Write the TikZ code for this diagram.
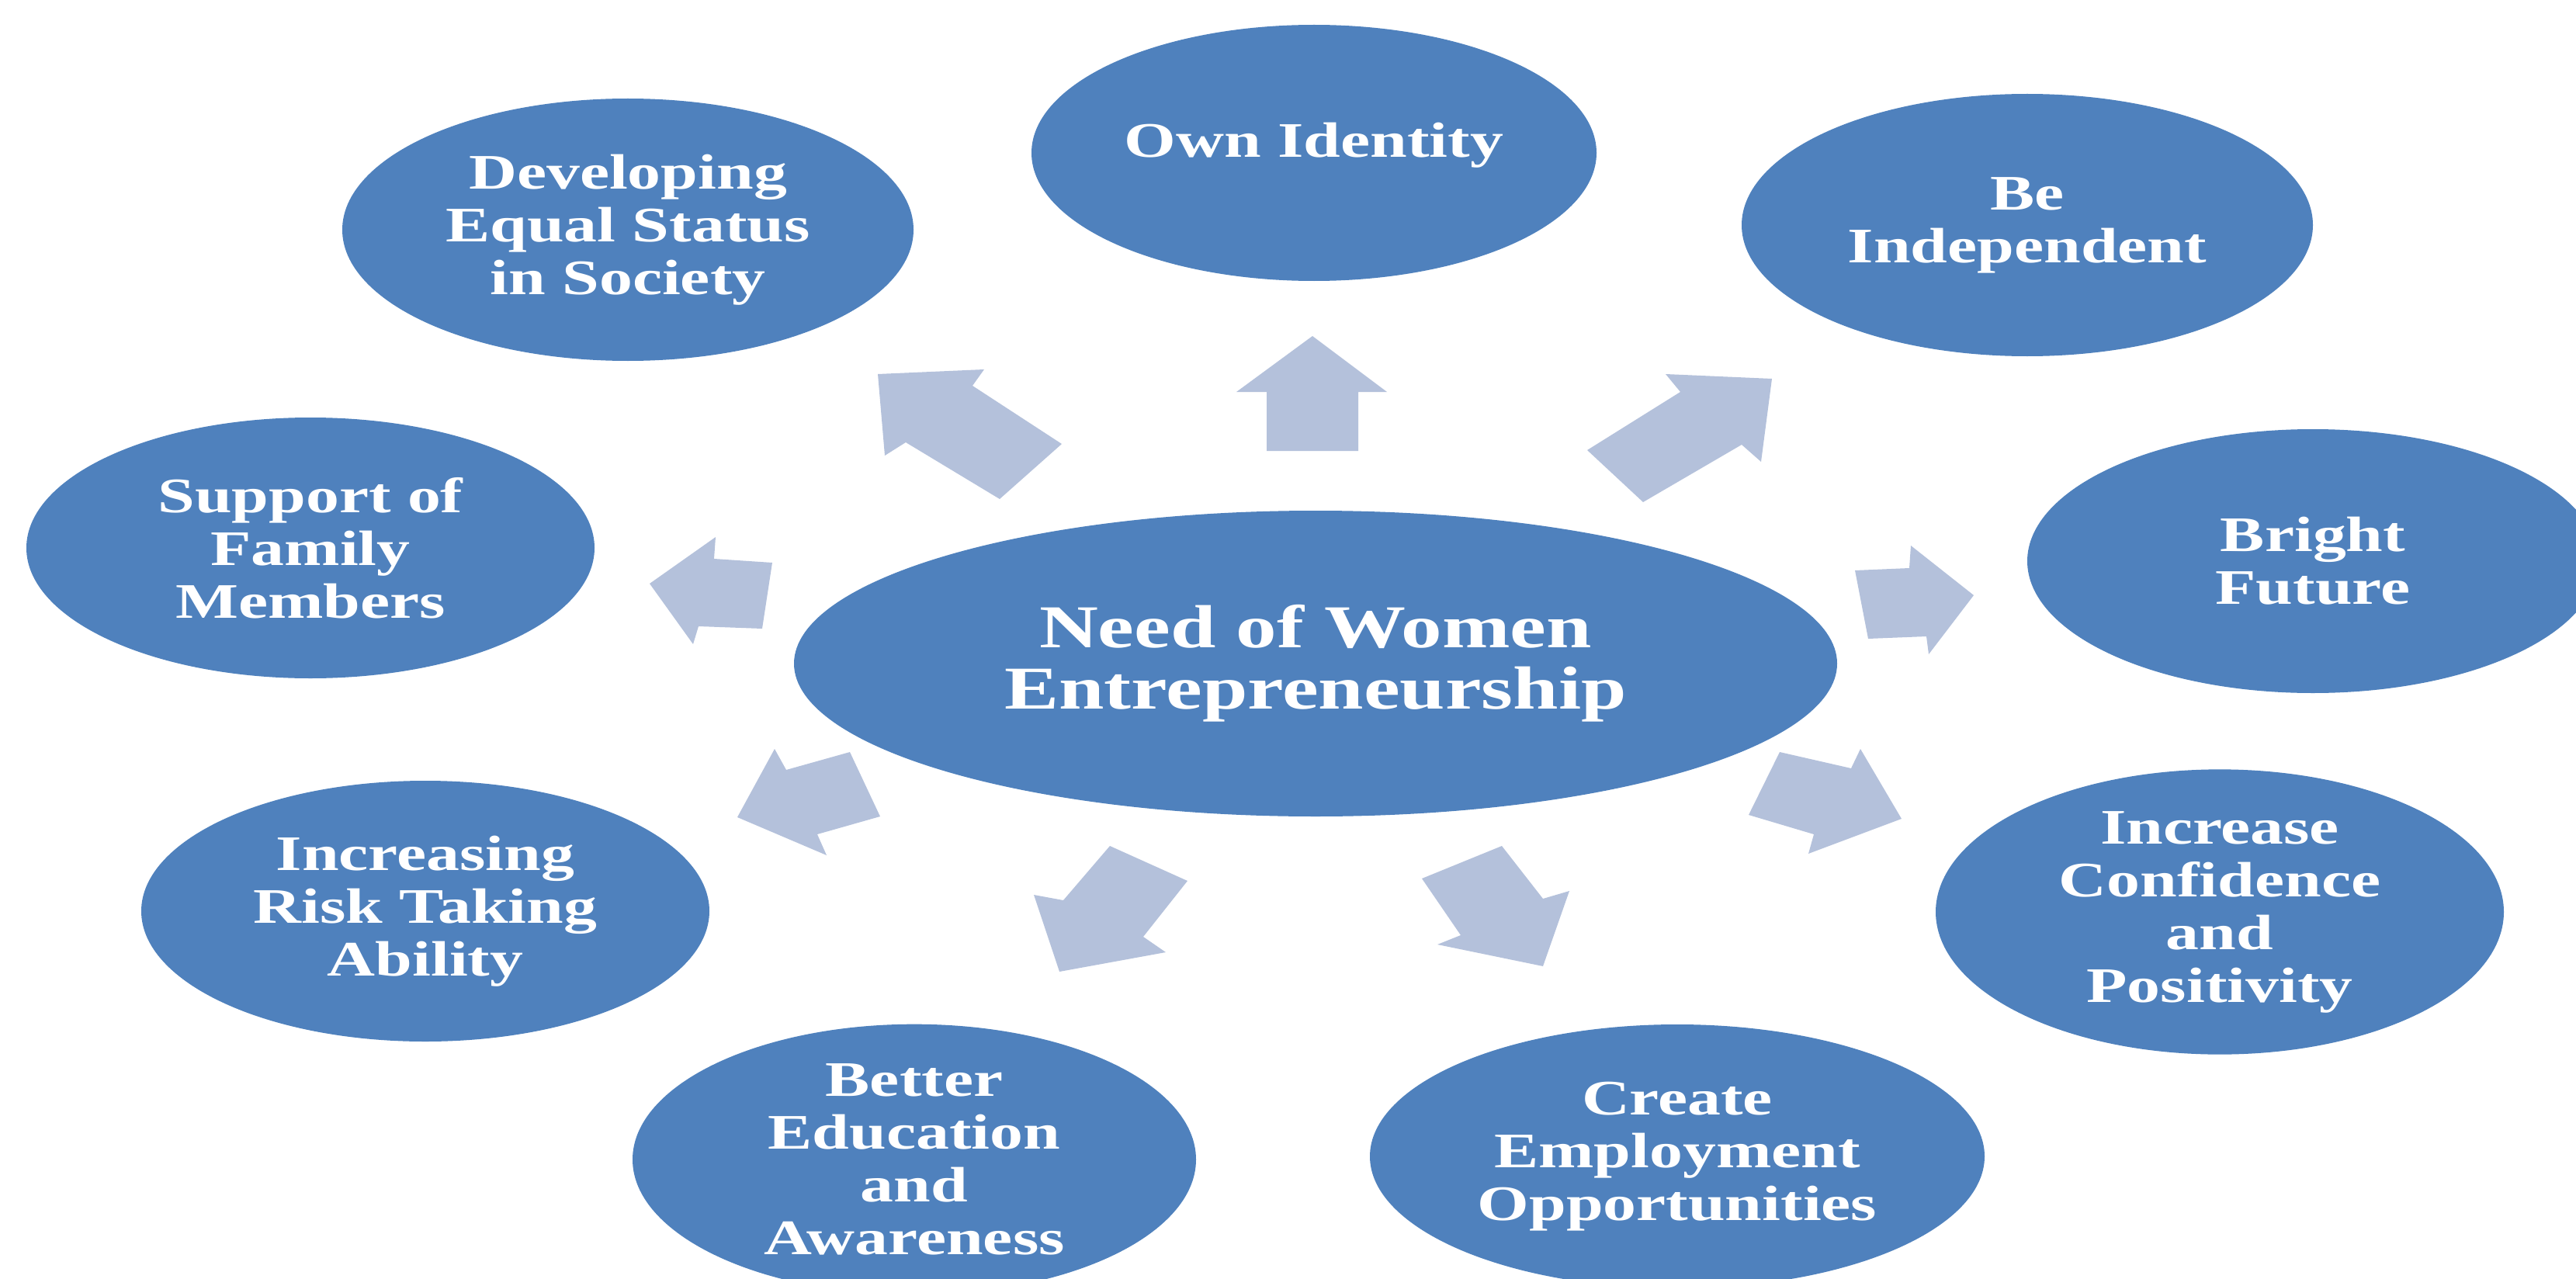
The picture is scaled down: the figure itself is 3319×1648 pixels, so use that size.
\documentclass[tikz,border=0pt]{standalone}
\usepackage{fontspec}
\setmainfont{Liberation Serif}[FakeStretch=1.34]
\usetikzlibrary{shapes.geometric}
\definecolor{bubbleblue}{RGB}{79,129,189}
\definecolor{arrowgrey}{RGB}{180,193,219}
\tikzset{every picture/.style={line width=0.75pt}}
\tikzset{
  bubbletext/.style={text=white, align=center, font=\fontsize{16}{17}\selectfont\bfseries},
  bubble/.style={ellipse, fill=bubbleblue, inner sep=0pt, bubbletext, minimum width=183pt, minimum height=84.5pt},
  blockarrow/.style={fill=arrowgrey},
}

\begin{document}
\begin{tikzpicture}[x=0.25pt,y=0.25pt,yscale=-1,xscale=1]
\useasboundingbox (0,0) rectangle (3319,1648);
\clip (0,0) rectangle (3319,1648);

%Shape: Ellipse centre
\node[bubble, minimum width=336pt, minimum height=98.5pt, font=\fontsize{19.6}{19.75}\selectfont\bfseries] (need) at (1695,855) {Need of Women\\Entrepreneurship};

%Shape: Ellipse ring
\node[bubble, minimum width=182pt, minimum height=82.5pt] (ownid) at (1693,197) {};
\node[bubbletext, anchor=base] (ownidtext) at (1693,203) {Own Identity};
\node[bubble, minimum width=184pt] (devel) at (809,296) {Developing\\Equal Status\\in Society};
\node[bubble, minimum width=184pt] (indep) at (2612,290) {Be\\Independent};
\node[bubble, minimum height=84pt] (family) at (400,706) {Support of\\Family\\Members};
\node[bubble, minimum width=184pt, minimum height=85pt] (future) at (2980,723) {Bright\\Future};
\node[bubble, minimum height=84pt] (risk) at (548,1174) {Increasing\\Risk Taking\\Ability};
\node[bubble, minimum height=85pt] (confid) at (2860,1175) {Increase\\Confidence\\and\\Positivity};
\node[bubble, minimum width=181.5pt] (educ) at (1178,1494) {Better\\Education\\and\\Awareness};
\node[bubble, minimum width=198pt, minimum height=85pt] (employ) at (2161,1490) {Create\\Employment\\Opportunities};

%Shape: Block arrows, from the centre outwards
\fill[blockarrow] (1691,433) -- (1787,505) -- (1750,505) -- (1750,581) -- (1632,581) -- (1632,505) -- (1593,505) -- cycle;
\fill[blockarrow] (2283,488) -- (2269,595) -- (2244,573) -- (2117,647) -- (2045,580) -- (2165,505) -- (2146,482) -- cycle;
\fill[blockarrow] (1131,482) -- (1268,476) -- (1253,497) -- (1368,572) -- (1288,643) -- (1167,570) -- (1140,587) -- cycle;
\fill[blockarrow] (837,752) -- (922,692) -- (920,720) -- (995,725) -- (982,810) -- (900,807) -- (893,830) -- cycle;
\fill[blockarrow] (2543,767) -- (2462,703) -- (2460,732) -- (2390,735) -- (2407,823) -- (2482,820) -- (2485,843) -- cycle;
\fill[blockarrow] (950,1053) -- (998,965) -- (1013,992) -- (1095,969) -- (1134,1052) -- (1053,1075) -- (1065,1102) -- cycle;
\fill[blockarrow] (2450,1055) -- (2397,965) -- (2385,990) -- (2293,969) -- (2253,1050) -- (2337,1075) -- (2330,1100) -- cycle;
\fill[blockarrow] (1365,1252) -- (1332,1153) -- (1370,1160) -- (1430,1090) -- (1530,1135) -- (1473,1207) -- (1502,1227) -- cycle;
\fill[blockarrow] (1988,1245) -- (2022,1148) -- (1988,1158) -- (1935,1090) -- (1832,1132) -- (1882,1205) -- (1852,1217) -- cycle;

\end{tikzpicture}
\end{document}
